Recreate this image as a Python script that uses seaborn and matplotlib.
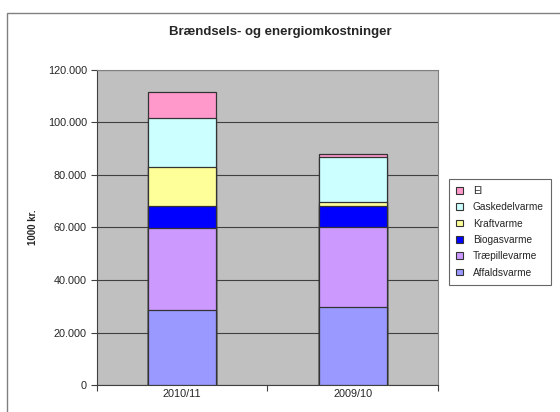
import numpy as np
import pandas as pd
import matplotlib
matplotlib.use("Agg")
import matplotlib.pyplot as plt
import matplotlib.patches as mpatches
from matplotlib.ticker import FuncFormatter, FixedLocator
import seaborn as sns

categories = ["2010/11", "2009/10"]
series_names = ["Affaldsvarme", "Træpillevarme", "Biogasvarme", "Kraftvarme", "Gaskedelvarme", "El"]
affaldsvarme = [28700, 29900]
traepillevarme = [31100, 30300]
biogasvarme = [8200, 8000]
kraftvarme = [15000, 1500]
gaskedelvarme = [18600, 17200]
el = [9900, 1000]
colors = ["#9999FF", "#CC99FF", "#0000FF", "#FFFF99", "#CCFFFF", "#FF99CC"]
yticks = [0, 20000, 40000, 60000, 80000, 100000, 120000]

series = [affaldsvarme, traepillevarme, biogasvarme, kraftvarme, gaskedelvarme, el]

sns.set_style("white")
plt.rcParams["font.family"] = ["Liberation Sans", "DejaVu Sans"]

fig = plt.figure(figsize=(5.6, 4.12), dpi=100)
# outer chart border
fig.patches.append(mpatches.Rectangle((7 / 560, -0.01), 1.0, (412 - 13) / 412 + 0.01,
                                      transform=fig.transFigure, fill=False,
                                      edgecolor="#808080", linewidth=1.0))
ax = fig.add_axes([96.7 / 560, (412 - 385.3) / 412, (438 - 96.7) / 560, (385.3 - 69.5) / 412])
ax.set_facecolor("#C0C0C0")

cum = np.cumsum(np.array(series), axis=0)
rows = []
for i, name in enumerate(series_names):
    for j, c in enumerate(categories):
        rows.append({"Kategori": c, "Serie": name, "Top": cum[i, j]})
df = pd.DataFrame(rows)

for i in reversed(range(len(series_names))):
    sub = df[df["Serie"] == series_names[i]]
    sns.barplot(data=sub, x="Kategori", y="Top", order=categories, color=colors[i],
                saturation=1, width=0.4, edgecolor="#333333", linewidth=0.9, ax=ax, zorder=3)

ax.set_xlim(-0.5, 1.5)
ax.set_ylim(0, 120000)
ax.set_yticks(yticks)
ax.yaxis.set_major_formatter(FuncFormatter(lambda v, p: f"{int(v):,}".replace(",", ".")))
ax.grid(axis="y", color="#404040", linewidth=0.8, zorder=1)
ax.set_axisbelow(True)
for s in ["top", "right"]:
    ax.spines[s].set_color("#808080")
    ax.spines[s].set_linewidth(0.8)
for s in ["left", "bottom"]:
    ax.spines[s].set_color("#404040")
    ax.spines[s].set_linewidth(0.8)
ax.tick_params(axis="y", direction="out", length=4, width=0.8, color="#404040", labelsize=7.8, pad=3, left=True)
ax.tick_params(axis="x", which="major", length=0, labelsize=7.8, pad=3)
ax.xaxis.set_minor_locator(FixedLocator([-0.5, 0.5, 1.5]))
ax.tick_params(axis="x", which="minor", direction="out", length=4, width=0.8, color="#404040", bottom=True)
ax.set_xlabel("")
ax.set_ylabel("1000 kr.", fontsize=7, fontweight="bold", labelpad=7)

fig.text(0.5, (412 - 32) / 412, "Brændsels- og energiomkostninger", ha="center", va="center",
         fontsize=9.5, fontweight="bold")

handles = [mpatches.Patch(facecolor=colors[i], edgecolor="#333333", linewidth=0.8, label=series_names[i])
           for i in reversed(range(len(series_names)))]
leg = fig.legend(handles=handles, loc="upper left", bbox_to_anchor=(449 / 560, (412 - 179) / 412),
                 fontsize=7.3, frameon=True, fancybox=False, edgecolor="#404040",
                 handlelength=0.65, handleheight=0.65, handletextpad=1.0, labelspacing=0.62,
                 borderpad=0.7, borderaxespad=0)
leg.get_frame().set_linewidth(0.8)

fig.savefig("out.png", dpi=100)
